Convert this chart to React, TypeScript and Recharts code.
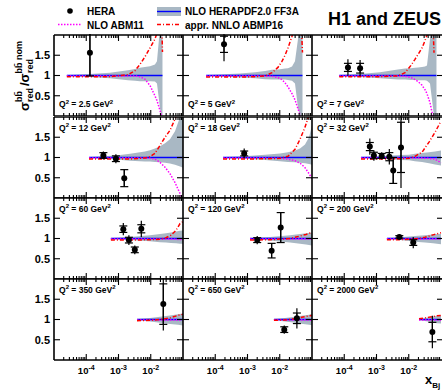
import React from "react";
import { ComposedChart, Area, Line, Scatter, ErrorBar, XAxis, YAxis } from "recharts";

const FONT = "'Liberation Sans', Arial, Helvetica, sans-serif";
const BAND = "#a9b8c4";
const BLUE = "#0000ff";
const MAGENTA = "#ff00ff";
const RED = "#ff0000";

// Q2 bins, GeV^2
const q2Values = ["2.5", "5", "7", "12", "18", "32", "60", "120", "200", "350", "650", "2000"];

// theory / nominal HERAPDF2.0 FF3A, on each panel's own x grid
const nominal = 1;

const curveX = [
  [2.5e-5, 1.3e-4, 5.4e-4, 1.97e-3, 3.25e-3, 4.6e-3, 6.6e-3, 9.5e-3, 1.35e-2, 1.56e-2, 1.8e-2, 2.08e-2, 2.31e-2],
  [5.2e-5, 1.87e-4, 5.8e-4, 1.71e-3, 3.5e-3, 5.75e-3, 8.8e-3, 1.17e-2, 1.46e-2, 1.8e-2, 2.4e-2, 2.97e-2, 3.68e-2, 4.25e-2, 5.07e-2],
  [7.0e-5, 1.3e-4, 3.1e-4, 1.29e-3, 4.6e-3, 7.7e-3, 1.17e-2, 1.56e-2, 1.94e-2, 2.58e-2, 3.19e-2, 3.68e-2, 4.56e-2, 5.26e-2, 6.07e-2, 7.24e-2],
  [1.22e-4, 3.3e-4, 8.4e-4, 2.28e-3, 6.6e-3, 9.5e-3, 1.35e-2, 1.94e-2, 2.77e-2, 3.95e-2, 5.65e-2, 8.1e-2, 0.1],
  [1.74e-4, 7.8e-4, 3.5e-3, 1.02e-2, 1.8e-2, 2.97e-2, 4.25e-2, 6.07e-2, 8.1e-2, 0.1],
  [3.3e-4, 1.29e-3, 5.4e-3, 1.02e-2, 1.56e-2, 2.58e-2, 4.25e-2, 6.5e-2, 0.1],
  [5.8e-4, 2.28e-3, 9.5e-3, 1.94e-2, 2.97e-2, 4.25e-2, 6.07e-2, 8.1e-2, 0.1],
  [1.2e-3, 5.0e-3, 2.08e-2, 4.25e-2, 6.5e-2, 0.1],
  [2.1e-3, 5.4e-3, 1.56e-2, 3.19e-2, 5.65e-2, 0.1],
  [3.75e-3, 9.5e-3, 1.94e-2, 3.95e-2, 7.0e-2, 0.1],
  [6.6e-3, 1.46e-2, 2.97e-2, 5.26e-2, 8.1e-2, 0.1],
  [2.08e-2, 3.19e-2, 5.26e-2, 7.5e-2, 0.1],
];

const bandLow = [
  [0.985, 0.965, 0.93, 0.88, 0.87, 0.86, 0.86, 0.86, 0.85, 0.8, 0.4, 0, 0],
  [0.985, 0.97, 0.95, 0.93, 0.91, 0.9, 0.9, 0.9, 0.9, 0.89, 0.87, 0.8, 0.2, 0, 0],
  [0.985, 0.975, 0.96, 0.93, 0.9, 0.9, 0.89, 0.89, 0.88, 0.88, 0.88, 0.87, 0.8, 0.4, 0, 0],
  [0.985, 0.97, 0.95, 0.92, 0.9, 0.9, 0.89, 0.88, 0.87, 0.85, 0.82, 0.78, 0.75],
  [0.985, 0.97, 0.94, 0.91, 0.89, 0.88, 0.87, 0.86, 0.84, 0.82],
  [0.985, 0.97, 0.94, 0.93, 0.91, 0.89, 0.86, 0.83, 0.8],
  [0.985, 0.96, 0.93, 0.91, 0.9, 0.89, 0.88, 0.87, 0.87],
  [0.985, 0.95, 0.9, 0.87, 0.85, 0.83],
  [0.985, 0.96, 0.92, 0.9, 0.88, 0.86],
  [0.985, 0.95, 0.92, 0.89, 0.87, 0.85],
  [0.985, 0.95, 0.92, 0.89, 0.87, 0.86],
  [0.985, 0.96, 0.93, 0.91, 0.9],
];

const bandHigh = [
  [1.015, 1.035, 1.07, 1.13, 1.16, 1.19, 1.21, 1.23, 1.27, 1.35, 1.9, 2.2, 2.2],
  [1.015, 1.03, 1.05, 1.08, 1.11, 1.14, 1.15, 1.16, 1.17, 1.18, 1.22, 1.35, 1.9, 2.2, 2.2],
  [1.015, 1.025, 1.04, 1.08, 1.15, 1.17, 1.18, 1.19, 1.2, 1.21, 1.22, 1.25, 1.9, 2.2, 2.2, 2.2],
  [1.015, 1.03, 1.05, 1.09, 1.15, 1.18, 1.22, 1.28, 1.35, 1.45, 1.65, 2.0, 2.3],
  [1.015, 1.03, 1.07, 1.1, 1.13, 1.17, 1.22, 1.32, 1.5, 1.8],
  [1.015, 1.03, 1.06, 1.07, 1.09, 1.11, 1.13, 1.15, 1.17],
  [1.015, 1.04, 1.08, 1.11, 1.13, 1.15, 1.17, 1.19, 1.2],
  [1.015, 1.04, 1.08, 1.11, 1.13, 1.15],
  [1.015, 1.03, 1.06, 1.08, 1.1, 1.12],
  [1.015, 1.04, 1.07, 1.1, 1.13, 1.15],
  [1.015, 1.04, 1.07, 1.1, 1.12, 1.14],
  [1.015, 1.04, 1.07, 1.09, 1.1],
];

const abm11 = [
  [0.985, 0.985, 0.985, 0.99, 0.99, 0.97, 0.91, 0.75, 0.5, 0.38, 0.22, 0.05, -0.3],
  [0.985, 0.985, 0.985, 0.985, 0.985, 0.98, 0.95, 0.9, 0.82, 0.72, 0.55, 0.4, 0.18, 0.03, -0.3],
  [0.985, 0.985, 0.985, 0.985, 0.985, 0.98, 0.95, 0.9, 0.85, 0.76, 0.65, 0.55, 0.33, 0.1, -0.3, null],
  [0.985, 0.985, 0.985, 0.985, 0.985, 0.98, 0.96, 0.88, 0.76, 0.6, 0.38, 0.11, -0.05],
  [0.985, 0.985, 0.985, 0.98, 0.96, 0.92, 0.86, 0.75, 0.6, 0.48],
  [0.985, 0.985, 0.985, 0.985, 0.985, 0.985, 0.98, 0.96, 0.87],
  [0.985, 0.985, 0.985, 0.985, 0.985, 0.985, 0.98, 0.975, 0.97],
  [0.985, 0.985, 0.985, 0.985, 0.985, 0.985],
  [0.985, 0.985, 0.985, 0.985, 0.985, 0.985],
  [0.985, 0.985, 0.985, 0.985, 0.985, 0.985],
  [0.985, 0.985, 0.985, 0.985, 0.985, 0.985],
  [0.985, 0.985, 0.985, 0.985, 0.985],
];

const abmp16 = [
  [0.97, 0.97, 0.97, 1.02, 1.12, 1.27, 1.46, 1.68, 1.9, 2.05, 2.6, 3.0, 1.58],
  [0.96, 0.96, 0.96, 0.97, 0.99, 1.07, 1.2, 1.35, 1.5, 1.68, 1.97, 2.3, 2.8, 3.0, 1.57],
  [0.97, 0.97, 0.97, 0.97, 0.99, 1.07, 1.25, 1.4, 1.52, 1.68, 1.86, 2.0, 2.5, 3.0, 1.56, null],
  [0.96, 0.96, 0.96, 0.96, 0.99, 1.02, 1.1, 1.3, 1.5, 1.67, 1.95, 2.3, 2.5],
  [0.96, 0.96, 0.97, 0.98, 1.03, 1.2, 1.45, 1.75, 2.05, 2.3],
  [0.96, 0.96, 0.97, 0.98, 1.03, 1.13, 1.38, 1.62, 1.9],
  [0.96, 0.96, 0.97, 0.98, 1.02, 1.08, 1.2, 1.37, 1.42],
  [0.96, 0.97, 1.0, 1.06, 1.1, 1.15],
  [0.97, 0.97, 0.99, 1.03, 1.09, 1.14],
  [0.97, 0.98, 1.0, 1.04, 1.1, 1.13],
  [0.98, 0.99, 1.02, 1.06, 1.09, 1.1],
  [1.02, 1.04, 1.07, 1.09, 1.1],
];

// HERA combined measurements
const heraX = [
  [1.3e-4],
  [1.87e-4],
  [1.3e-4, 3.1e-4],
  [3.4e-4, 8.3e-4, 1.51e-3],
  [7.9e-4],
  [6.2e-4, 8.3e-4, 1.45e-3, 2.5e-3, 3.3e-3, 5.75e-3],
  [1.41e-3, 2.1e-3, 3.2e-3, 5.1e-3],
  [2.0e-3, 5.6e-3, 1.07e-2],
  [5.1e-3, 1.38e-2],
  [2.45e-2],
  [1.38e-2, 3.4e-2],
  [5.4e-2],
];
const heraY = [
  [1.56], [1.77], [1.2, 1.18], [1.05, 0.97, 0.49], [1.1],
  [1.27, 1.05, 1.04, 1.02, 0.68, 1.25], [1.23, 0.96, 0.72, 1.24],
  [0.96, 0.7, 1.27], [1.04, 0.9], [1.38], [0.75, 1.03], [0.69],
];
const heraStat = [
  [0.57], [0.2], [0.1, 0.12], [0.07, 0.07, 0.21], [0.06],
  [0.1, 0.08, 0.06, 0.1, 0.32, 0.62], [0.08, 0.07, 0.07, 0.1],
  [0.06, 0.18, 0.37], [0.03, 0.07], [0.5], [0.07, 0.13], [0.24],
];
const heraTot = [
  [0.57], [0.42], [0.2, 0.2], [0.1, 0.11, 0.21], [0.12],
  [0.2, 0.13, 0.09, 0.19, 0.32, 1.0], [0.15, 0.12, 0.11, 0.2],
  [0.1, 0.18, 0.37], [0.05, 0.14], [0.65], [0.1, 0.25], [0.4],
];

const xMajor = [1e-4, 1e-3, 1e-2];
const xMinor = [1e-5, 1e-4, 1e-3, 1e-2].flatMap((d) => [2, 3, 4, 5, 6, 7, 8, 9].map((m) => m * d));
const xAll = [...xMajor, ...xMinor].sort((a, b) => a - b);
const yMajor = [0.5, 1, 1.5];

const colLeft = [54, 183, 312];
const rowTop = [35, 117, 198, 279];
const PW = 129;
const PH = 81;

// inward tick marks drawn by hand so majors and minors share one axis
function FrameTick(side: "b" | "t" | "l" | "r") {
  return (p: any) => {
    const { x, y, payload } = p;
    const major = side === "l" || side === "r" || xMajor.includes(payload.value);
    const len = major ? 6 : 3;
    const dx = side === "l" ? len : side === "r" ? -len : 0;
    const dy = side === "b" ? -len : side === "t" ? len : 0;
    return <line x1={x} y1={y} x2={x + dx} y2={y + dy} stroke="#000" strokeWidth={1.1} />;
  };
}

function XTick(props: any) {
  const { x, y, payload } = props;
  const exp = Math.round(Math.log10(payload.value));
  return (
    <text x={x} y={y + 14} textAnchor="middle" fontFamily={FONT} fontWeight="bold" fontSize={9.5} fill="#000">
      10<tspan dy={-4} fontSize={7}>{exp}</tspan>
    </text>
  );
}

function Panel({ i }: { i: number }) {
  const col = i % 3;
  const row = Math.floor(i / 3);
  const padL = col === 0 ? 54 : 0;
  const padB = row === 3 ? 30 : 0;
  // right column runs off the page edge
  const extra = col === 2 ? 2 : 0;
  const xDomain = [1e-5, Math.pow(10, -1 + (extra * 4) / PW)];
  const w = padL + PW + extra;
  const h = PH + padB + 1;

  const data = curveX[i].map((x, k) => ({
    x,
    band: [bandLow[i][k], bandHigh[i][k]],
    nom: nominal,
    abm11: abm11[i][k],
    abmp16: abmp16[i][k],
  }));
  const points = heraX[i].map((x, k) => ({ x, y: heraY[i][k], stat: heraStat[i][k], tot: heraTot[i][k] }));

  const frame = { stroke: "#000", strokeWidth: 1.6 };
  const xa = { type: "number" as const, scale: "log" as const, domain: xDomain, allowDataOverflow: true, dataKey: "x", interval: 0 as const };
  const ya = { type: "number" as const, domain: [0, 2], allowDataOverflow: true, interval: 0 as const };

  return (
    <div style={{ position: "absolute", left: colLeft[col] - padL, top: rowTop[row] - 1, width: w, height: h, overflow: "hidden" }}>
      <ComposedChart width={w} height={h} data={data} margin={{ top: 1, right: 0, bottom: 0, left: 0 }}>
        <XAxis {...xa} xAxisId="b" orientation="bottom" mirror height={1} ticks={xAll} tick={FrameTick("b")} tickSize={0} tickMargin={0} tickLine={false} axisLine={frame} />
        <XAxis {...xa} xAxisId="t" orientation="top" mirror height={1} ticks={xAll} tick={FrameTick("t")} tickSize={0} tickMargin={0} tickLine={false} axisLine={frame} />
        {row === 3 && (
          <XAxis {...xa} xAxisId="lab" orientation="bottom" height={padB} ticks={xMajor} tick={(p: any) => <XTick {...p} />} tickLine={false} axisLine={false} tickSize={0} tickMargin={0} />
        )}
        <YAxis {...ya} yAxisId="l" orientation="left" mirror width={1} ticks={yMajor} tick={FrameTick("l")} tickSize={0} tickMargin={0} tickLine={false} axisLine={frame} />
        <YAxis {...ya} yAxisId="r" orientation="right" mirror width={1} ticks={yMajor} tick={FrameTick("r")} tickSize={0} tickMargin={0} tickLine={false} axisLine={frame} />
        {col === 0 && (
          <YAxis
            {...ya}
            yAxisId="lab"
            orientation="left"
            width={padL}
            ticks={yMajor}
            tickLine={false}
            axisLine={false}
            tickSize={0}
            tickMargin={4}
            tickFormatter={(v: number) => String(v)}
            tick={{ fontSize: 11, fontWeight: "bold", fill: "#000", fontFamily: FONT }}
          />
        )}
        <Area xAxisId="b" yAxisId="l" type="linear" dataKey="band" stroke="none" fill={BAND} fillOpacity={1} isAnimationActive={false} />
        <Line xAxisId="b" yAxisId="l" type="linear" dataKey="nom" stroke={BLUE} strokeWidth={1.4} dot={false} isAnimationActive={false} />
        <Line xAxisId="b" yAxisId="l" type="linear" dataKey="abm11" stroke={MAGENTA} strokeWidth={1.5} strokeDasharray="1.5 1.5" dot={false} isAnimationActive={false} />
        <Line xAxisId="b" yAxisId="l" type="linear" dataKey="abmp16" stroke={RED} strokeWidth={1.5} strokeDasharray="4 2 1 2" dot={false} isAnimationActive={false} />
        <Scatter
          xAxisId="b"
          yAxisId="l"
          data={points}
          dataKey="y"
          isAnimationActive={false}
          shape={(p: any) => <circle cx={p.cx} cy={p.cy} r={3} fill="#000" />}
        >
          <ErrorBar dataKey="tot" direction="y" width={0} stroke="#000" strokeWidth={1.2} />
          <ErrorBar dataKey="stat" direction="y" width={4} stroke="#000" strokeWidth={1.2} />
        </Scatter>
      </ComposedChart>
    </div>
  );
}

function Q2Label({ i }: { i: number }) {
  const col = i % 3;
  const row = Math.floor(i / 3);
  const y = row === 0 ? rowTop[0] + 72 : rowTop[row] + 13.5;
  return (
    <text x={colLeft[col] + 5} y={y} fontSize={8.5}>
      Q<tspan dy={-3.5} fontSize={6}>2</tspan>
      <tspan dy={3.5}>{` = ${q2Values[i]} GeV`}</tspan>
      <tspan dy={-3.5} fontSize={6}>2</tspan>
    </text>
  );
}

export default function App() {
  return (
    <div style={{ position: "absolute", left: 0, top: 0, width: 442, height: 390, overflow: "hidden", background: "#fff" }}>
      {q2Values.map((_, i) => (
        <Panel key={i} i={i} />
      ))}
      <svg width={442} height={390} style={{ position: "absolute", left: 0, top: 0 }} fontFamily={FONT} fontWeight="bold" fill="#000">
        <circle cx={70} cy={11} r={2.8} fill="#000" />
        <text x={87} y={14.5} fontSize={10}>HERA</text>
        <rect x={157} y={7} width={24} height={9} fill={BAND} />
        <line x1={157} x2={181} y1={11.5} y2={11.5} stroke={BLUE} strokeWidth={1.4} />
        <text x={185} y={14.5} fontSize={10}>NLO HERAPDF2.0 FF3A</text>
        <line x1={58} x2={82} y1={24.5} y2={24.5} stroke={MAGENTA} strokeWidth={1.5} strokeDasharray="1.5 1.5" />
        <text x={87} y={28.5} fontSize={10}>NLO ABM11</text>
        <line x1={157} x2={181} y1={24.5} y2={24.5} stroke={RED} strokeWidth={1.5} strokeDasharray="4 2 1 2" />
        <text x={185} y={28.5} fontSize={10}>appr. NNLO ABMP16</text>
        <text x={328} y={25} fontSize={18}>H1 and ZEUS</text>

        <text transform="translate(29,111) rotate(-90)" fontSize={13}>
          σ<tspan fontSize={9} dy={-7}>{"bb\u0304"}</tspan>
          <tspan fontSize={9} dx={-11} dy={11}>red</tspan>
          <tspan fontSize={13} dx={2} dy={-4}>/σ</tspan>
          <tspan fontSize={9} dy={-7}>{"bb\u0304 nom"}</tspan>
          <tspan fontSize={9} dx={-32} dy={11}>red</tspan>
        </text>

        <text x={425} y={383.5} fontSize={13}>
          x<tspan fontSize={8} dy={4}>Bj</tspan>
        </text>

        {q2Values.map((_, i) => (
          <Q2Label key={i} i={i} />
        ))}
      </svg>
    </div>
  );
}
